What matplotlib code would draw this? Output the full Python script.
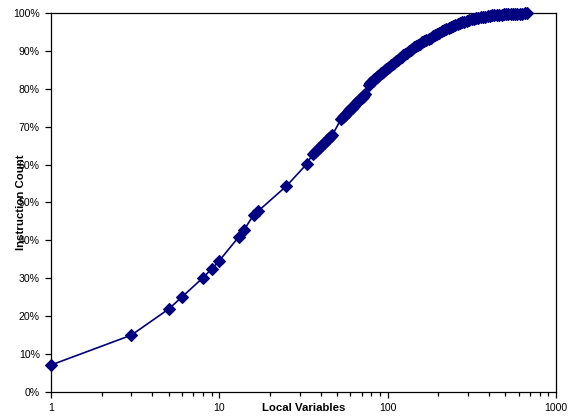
import matplotlib
matplotlib.use("Agg")
import matplotlib.pyplot as plt
from matplotlib.ticker import FixedLocator, NullFormatter

plt.rcParams['font.family'] = ['Liberation Sans', 'DejaVu Sans']

# Local variables (x) and cumulative instruction count share in % (y)
local_vars = [1, 3, 5, 6, 8, 9, 10, 13, 14, 16, 17, 25, 33,
              36, 37, 38, 39, 40, 41, 42, 43, 44, 45, 46, 47,
              53, 54, 55, 56, 57, 58, 59, 60, 61, 62, 63, 64, 65, 66, 67, 68, 69, 70, 71, 72, 73,
              77, 79, 80, 82, 83, 85, 86, 88, 89, 91, 92, 94, 96, 98, 100, 102, 104, 107, 109,
              112, 115, 118, 121, 124, 127, 130, 133, 137, 140, 144, 148, 152, 156, 160, 165,
              170, 175, 180, 185, 191, 197, 203, 209, 216, 223, 230, 237, 245, 252, 260, 268,
              277, 286, 295, 305, 315, 325, 335, 346, 357, 368, 380, 392, 405, 417, 430, 445,
              460, 475, 490, 505, 520, 537, 555, 572, 590, 610, 630, 650, 670]
instr_pct = [7.0, 14.9, 21.8, 25.0, 30.1, 32.4, 34.6, 40.8, 42.7, 46.7, 47.7, 54.3, 60.1,
             62.9, 63.4, 63.9, 64.4, 64.9, 65.3, 65.8, 66.2, 66.7, 67.1, 67.5, 67.9,
             72.1, 72.5, 72.8, 73.2, 73.6, 73.9, 74.3, 74.6, 75.0, 75.3, 75.6, 76.0, 76.3, 76.6, 76.9, 77.2, 77.5, 77.7, 78.0, 78.3, 78.6,
             81.0, 81.5, 81.8, 82.2, 82.5, 82.9, 83.1, 83.5, 83.7, 84.1, 84.3, 84.6, 85.0, 85.3, 85.6, 85.9, 86.2, 86.6, 86.9,
             87.3, 87.7, 88.1, 88.5, 88.9, 89.2, 89.6, 89.9, 90.3, 90.6, 91.0, 91.4, 91.7, 92.0, 92.3, 92.6,
             92.9, 93.3, 93.6, 94.0, 94.3, 94.6, 94.9, 95.2, 95.5, 95.8, 96.1, 96.4, 96.6, 96.9, 97.1, 97.4,
             97.6, 97.8, 98.0, 98.2, 98.4, 98.55, 98.7, 98.85, 98.95, 99.05, 99.15, 99.25, 99.35, 99.45, 99.5, 99.55,
             99.6, 99.65, 99.7, 99.72, 99.75, 99.78, 99.8, 99.82, 99.85, 99.88, 99.9, 99.95, 100.0]

x_ticks = [1, 10, 100, 1000]
x_tick_labels = ["1", "10", "100", "1000"]
y_ticks = [0, 10, 20, 30, 40, 50, 60, 70, 80, 90, 100]
y_tick_labels = ["0%", "10%", "20%", "30%", "40%", "50%", "60%", "70%", "80%", "90%", "100%"]

fig = plt.figure(figsize=(5.74, 4.17), dpi=100)
ax = fig.add_axes([51 / 574, (417 - 391.5) / 417, 505 / 574, 378.2 / 417])

navy = "#000080"
ax.plot(local_vars, instr_pct, color=navy, lw=1.2, marker='D', ms=6.6,
        mfc=navy, mec=navy, mew=0.8, clip_on=False, zorder=3)

ax.set_xscale('log')
ax.set_xlim(1, 1000)
ax.set_ylim(0, 100)

ax.xaxis.set_major_locator(FixedLocator(x_ticks))
ax.set_xticklabels(x_tick_labels)
minor = [m * 10 ** d for d in range(3) for m in range(2, 10)]
ax.xaxis.set_minor_locator(FixedLocator(minor))
ax.xaxis.set_minor_formatter(NullFormatter())
ax.set_yticks(y_ticks)
ax.set_yticklabels(y_tick_labels)

ax.tick_params(axis='both', which='major', direction='out', length=4, width=0.9,
               labelsize=7.6, pad=4, colors='black')
ax.tick_params(axis='x', which='minor', direction='out', length=3, width=0.9)
ax.tick_params(axis='y', which='minor', left=False)

for s in ax.spines.values():
    s.set_linewidth(0.9)
    s.set_color('black')

ax.set_xlabel("Local Variables", fontsize=8.2, fontweight='bold', va='center')
ax.xaxis.set_label_coords(0.5, -0.044)
ax.set_ylabel("Instruction Count", fontsize=8.2, fontweight='bold', va='center')
ax.yaxis.set_label_coords(-0.059, 0.5)

fig.savefig("out.png", dpi=100)
